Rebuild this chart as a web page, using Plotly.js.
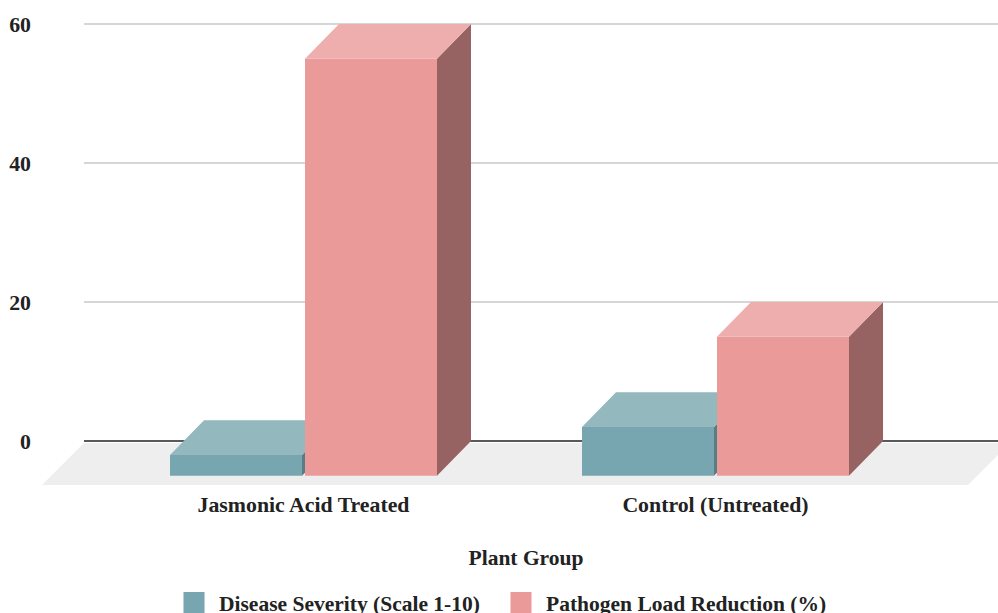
<!DOCTYPE html>
<html>
<head>
<meta charset="utf-8">
<script src="https://cdn.plot.ly/plotly-3.0.1.min.js"></script>
<style>html,body{margin:0;padding:0;width:998px;height:613px;overflow:hidden;background:#fff}</style>
</head>
<body>
<div id="chart" style="width:1010px;height:660px"></div>
<script>
// Data
var categories = ["Jasmonic Acid Treated", "Control (Untreated)"];
var categoryPositions = [0, 1];
var diseaseSeverity = [3, 7];
var pathogenReduction = [60, 20];
var yTicks = [0, 20, 40, 60];
var seriesNames = ["Disease Severity (Scale 1-10)", "Pathogen Load Reduction (%)"];

// 3D projection constants (axis units)
var pxPerCategory = 412;
var depthX = 34 / pxPerCategory, depthY = 5;
var barWidth = 132 / pxPerCategory;
var offsetA = -133.5 / pxPerCategory, offsetB = 1.5 / pxPerCategory;
var xRange = [(42 - 303.5) / pxPerCategory, (1010 - 303.5) / pxPerCategory], yRange = [-6.331, 60.576];

var tickFont = {family: '"Liberation Serif", "Times New Roman", serif', size: 21.8, color: '#222', weight: 700};
var labelFont = {family: '"Liberation Serif", "Times New Roman", serif', size: 21.5, color: '#222', weight: 700};
var colorsA = {front: '#77a5b0', top: '#93b8bd', side: '#5a7c85'};
var colorsB = {front: '#eb9a9a', top: '#eeaeae', side: '#966362'};

function poly(values, off, face) {
  var xs = [], ys = [];
  values.forEach(function (v, i) {
    var l = categoryPositions[i] + off, r = l + barWidth, t = v - depthY, b = -depthY;
    if (face === 'top') {
      xs.push(l, l + depthX, r + depthX, r, l, null);
      ys.push(t, t + depthY, t + depthY, t, t, null);
    } else {
      xs.push(r, r + depthX, r + depthX, r, r, null);
      ys.push(b, b + depthY, t + depthY, t, b, null);
    }
  });
  return {x: xs, y: ys};
}
function faceTrace(values, off, face, color, xa, ya) {
  var p = poly(values, off, face);
  return {type: 'scatter', mode: 'none', x: p.x, y: p.y, fill: 'toself', fillcolor: color,
    hoverinfo: 'skip', showlegend: false, xaxis: xa, yaxis: ya};
}
function barTrace(values, off, color, name, xa, ya) {
  return {type: 'bar', name: name, x: categoryPositions, y: values,
    base: values.map(function () { return -depthY; }),
    offset: off, width: barWidth, marker: {color: color, line: {width: 0}},
    showlegend: false, xaxis: xa, yaxis: ya};
}
function legendTrace(name, color, legendId) {
  return {type: 'scatter', mode: 'markers', name: name, x: [null], y: [null], showlegend: true, legend: legendId,
    marker: {symbol: 'square', size: 16, color: color, line: {width: 5, color: color}}};
}

var traces = [
  barTrace(diseaseSeverity, offsetA, colorsA.front, seriesNames[0], 'x', 'y'),
  faceTrace(diseaseSeverity, offsetA, 'side', colorsA.side, 'x', 'y'),
  faceTrace(diseaseSeverity, offsetA, 'top', colorsA.top, 'x', 'y'),
  barTrace(pathogenReduction, offsetB, colorsB.front, seriesNames[1], 'x2', 'y2'),
  faceTrace(pathogenReduction, offsetB, 'side', colorsB.side, 'x2', 'y2'),
  faceTrace(pathogenReduction, offsetB, 'top', colorsB.top, 'x2', 'y2'),
  legendTrace(seriesNames[0], colorsA.front, 'legend'),
  legendTrace(seriesNames[1], colorsB.front, 'legend2')
];

var backLeft = xRange[0] + 42 / pxPerCategory;
var floorTopY = -0.3;
var shapes = [{
  type: 'path', layer: 'below', xref: 'x', yref: 'y', line: {width: 0}, fillcolor: '#eeeeee',
  path: 'M' + backLeft + ',' + floorTopY + ' L' + xRange[1] + ',' + floorTopY +
        ' L' + (xRange[1] - 42 / pxPerCategory) + ',' + yRange[0] + ' L' + xRange[0] + ',' + yRange[0] + ' Z'
}];
yTicks.forEach(function (t) {
  shapes.push({type: 'line', layer: 'below', xref: 'x', yref: 'y', x0: backLeft, x1: xRange[1], y0: t, y1: t,
    line: {color: t === 0 ? '#222222' : '#c8c8c8', width: 1.5}});
});

function legendAt(px) {
  return {orientation: 'h', x: px / 968, xanchor: 'left', y: -97 / 465, yanchor: 'top',
    font: labelFont, bgcolor: 'rgba(0,0,0,0)', itemwidth: 40};
}

var layout = {
  width: 1010, height: 660,
  margin: {l: 42, r: 0, t: 20, b: 175},
  paper_bgcolor: '#fff', plot_bgcolor: 'rgba(0,0,0,0)',
  barmode: 'overlay',
  shapes: shapes,
  xaxis: {range: xRange, tickmode: 'array', tickvals: categoryPositions, ticktext: categories,
    showgrid: false, zeroline: false, showline: false, ticks: '', tickfont: tickFont, ticklabelstandoff: 4, fixedrange: true,
    title: {text: 'Plant Group', font: labelFont, standoff: 34}, automargin: false},
  yaxis: {range: yRange, tickmode: 'array', tickvals: yTicks, showgrid: false, zeroline: false, showline: false,
    ticks: '', tickfont: tickFont, ticklabelstandoff: 10, ticklabelshift: -1.5, fixedrange: true, automargin: false},
  xaxis2: {range: xRange, overlaying: 'x', visible: false, fixedrange: true},
  yaxis2: {range: yRange, overlaying: 'y', visible: false, fixedrange: true},
  showlegend: true,
  legend: legendAt(127),
  legend2: legendAt(454),
  hovermode: false
};
Plotly.newPlot('chart', traces, layout, {displayModeBar: false, responsive: false});
</script>
</body>
</html>
